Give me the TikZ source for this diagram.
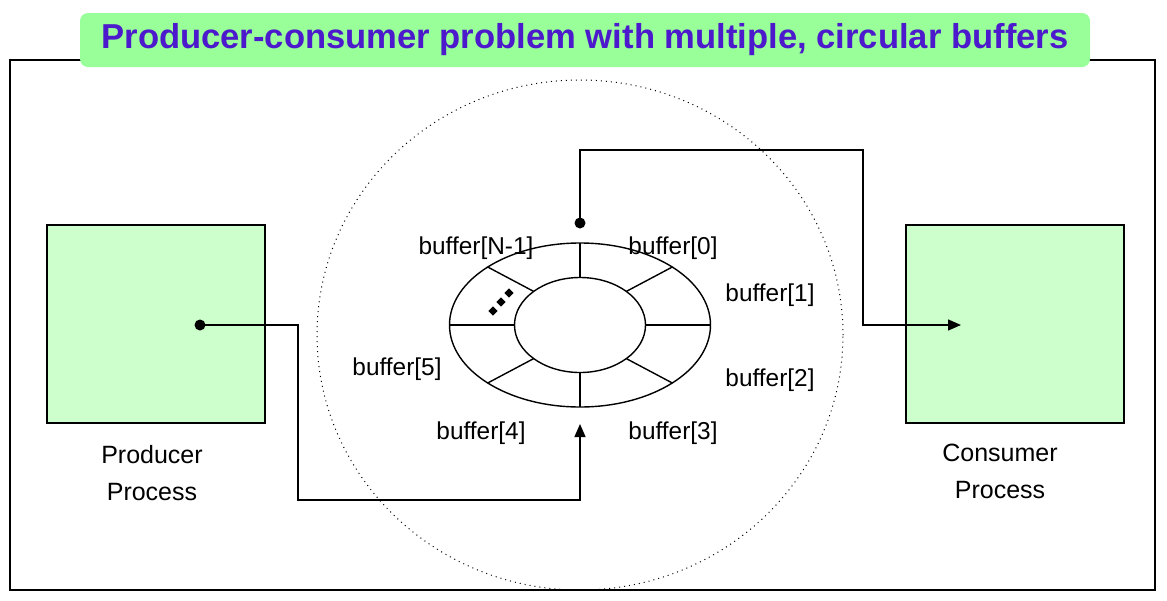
\documentclass[tikz,border=0pt]{standalone}
\usepackage{fontspec}
\setmainfont{Liberation Sans}
\usetikzlibrary{arrows.meta,calc}
\definecolor{titlegreen}{RGB}{153,255,153}
\definecolor{boxgreen}{RGB}{204,255,204}
\definecolor{titleblue}{RGB}{76,26,204}
\tikzset{
  procbox/.style={draw=black, line width=0.7pt, fill=boxgreen},
  conn/.style={line width=0.7pt},
  dotnode/.style={circle, fill=black, inner sep=0pt, minimum size=5.5pt},
  buflabel/.style={font=\fontsize{12.2}{14}\selectfont, inner sep=0pt},
  proclabel/.style={font=\fontsize{12.5}{18.5}\selectfont, align=center, inner sep=0pt},
  tip/.style={-{Triangle[length=6.5pt,width=5.5pt]}},
}
\begin{document}
\begin{tikzpicture}[x=0.5pt, y=-0.5pt]
\useasboundingbox (0,0) rectangle (1167,600);
% outer frame
\draw[line width=0.7pt] (10,60) rectangle (1155,590);
% title
\node[fill=titlegreen, rounded corners=4pt, minimum width=505pt, minimum height=27pt, inner sep=0pt,
      text=titleblue, font=\bfseries\fontsize{17.3}{20}\selectfont] (title) at (585,40)
  {Producer-consumer problem with multiple, circular buffers};
% dotted circle
\draw[dotted, line width=0.5pt] (580,335) ellipse [x radius=131.5pt, y radius=127.5pt];
% ring
\coordinate (rc) at (580,325);
\draw[line width=0.7pt] (rc) ellipse [x radius=65.25pt, y radius=41pt];
\draw[line width=0.7pt] (rc) ellipse [x radius=32.75pt, y radius=23.75pt];
\foreach \t in {0,45,...,315}{
  \draw[line width=0.7pt] ($(rc)+({65.5*cos(\t)},{-47.5*sin(\t)})$) -- ($(rc)+({130.5*cos(\t)},{-82*sin(\t)})$);
}
% dots in N-1 segment
\foreach \p in {(509,293),(501,302),(493,311)}{
  \fill[rotate around={45:\p}] \p ++(-3.2,-3.2) rectangle ++(6.4,6.4);
}
% processes
\node[procbox, minimum width=109pt, minimum height=99pt, inner sep=0pt] (prod) at (156,324) {};
\node[procbox, minimum width=109pt, minimum height=99pt, inner sep=0pt] (cons) at (1015,324) {};
\node[proclabel] (prodl) at (152,473) {Producer\\Process};
\node[proclabel] (consl) at (1000,471) {Consumer\\Process};
% buffer labels
\node[buflabel] (bN) at (476,248) {buffer[N-1]};
\node[buflabel] (b0) at (673,248) {buffer[0]};
\node[buflabel] (b1) at (770,295) {buffer[1]};
\node[buflabel] (b2) at (770,380) {buffer[2]};
\node[buflabel] (b3) at (673,433) {buffer[3]};
\node[buflabel] (b4) at (481,433) {buffer[4]};
\node[buflabel] (b5) at (397,369) {buffer[5]};
% producer connector
\node[dotnode] (pdot) at (200,325) {};
\coordinate (p1) at (298,325);
\coordinate (p2) at (298,500);
\coordinate (p3) at (580,500);
\coordinate (ptip) at (580,424);
\draw[conn, tip] (pdot.center) -- (p1) -- (p2) -- (p3) -- (ptip);
% consumer connector
\node[dotnode] (cdot) at (580,223) {};
\coordinate (c1) at (580,150);
\coordinate (c2) at (863,150);
\coordinate (c3) at (863,325);
\coordinate (ctip) at (961,325);
\draw[conn, tip] (cdot.center) -- (c1) -- (c2) -- (c3) -- (ctip);
\end{tikzpicture}
\end{document}
